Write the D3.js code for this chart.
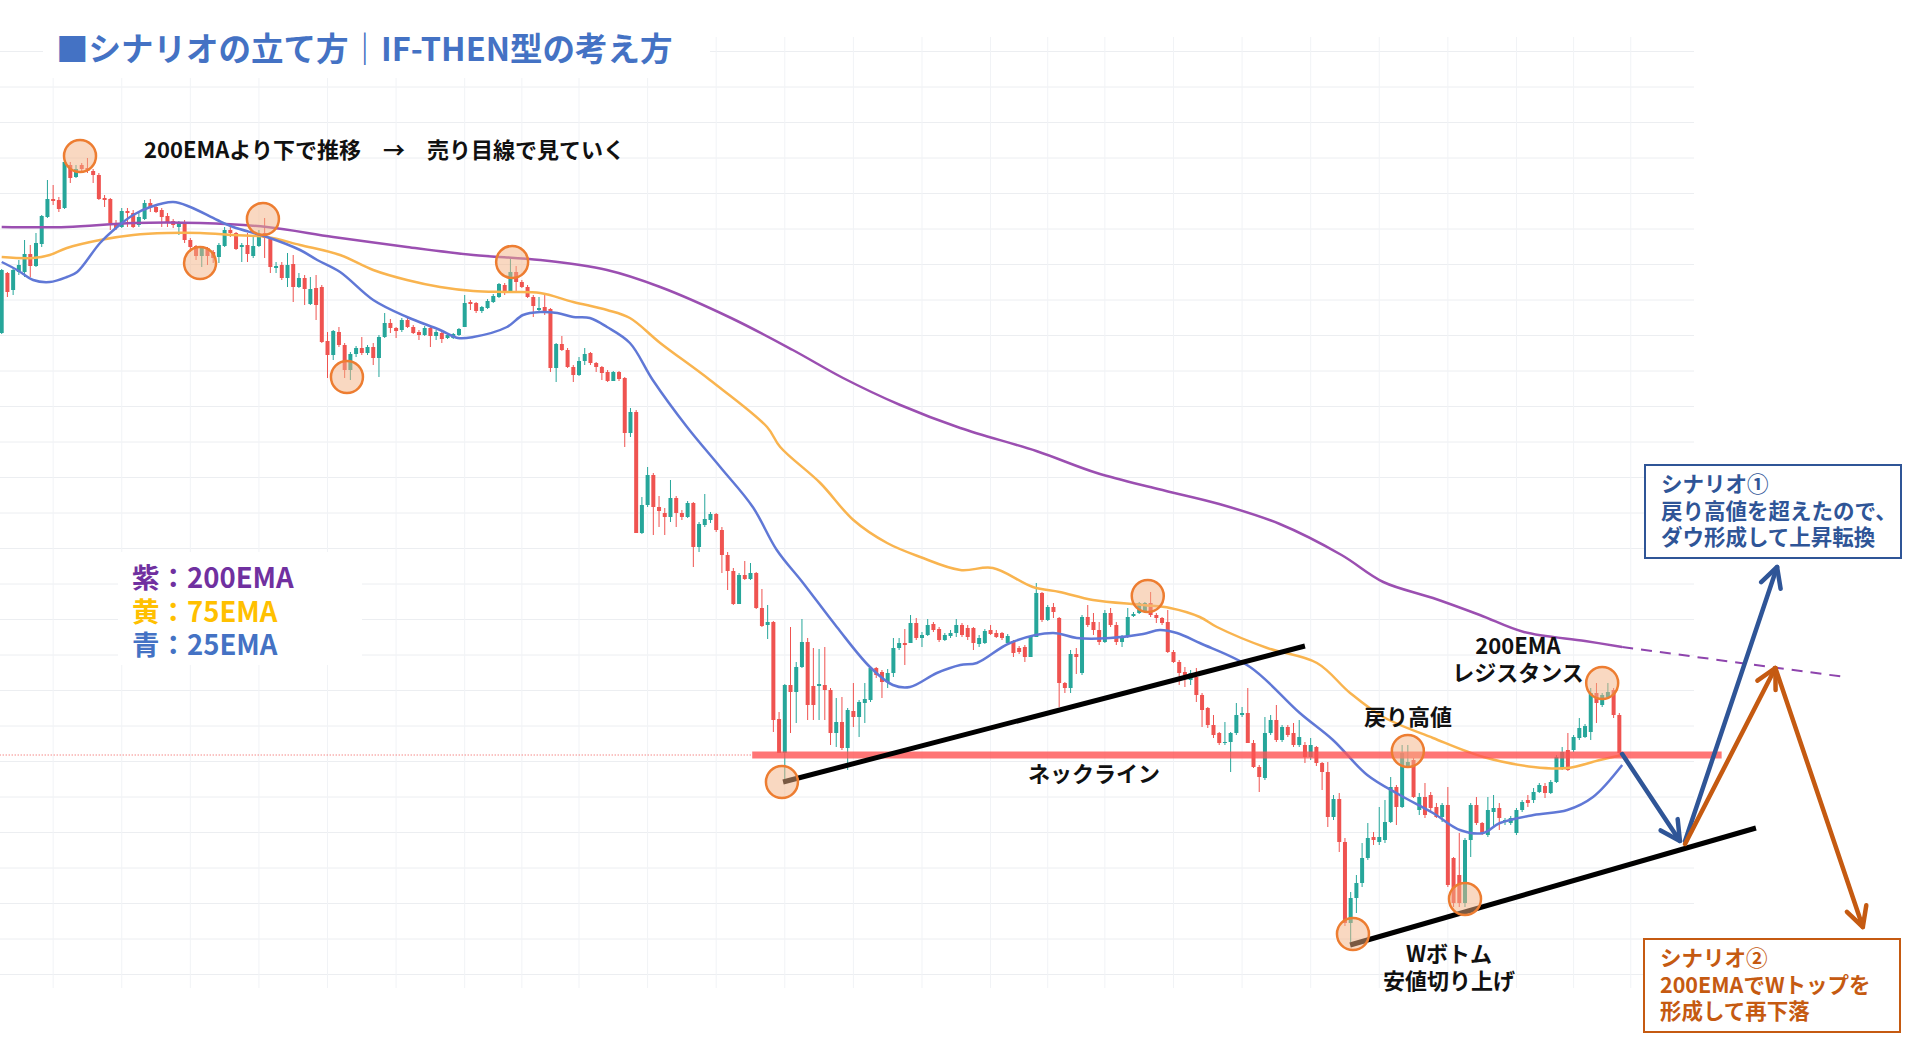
<!DOCTYPE html>
<html><head><meta charset="utf-8">
<script src="https://cdn.jsdelivr.net/npm/d3@7"></script>
<style>
html,body{margin:0;padding:0;background:#fff;}
svg{display:block;}
text{font-family:"Noto Sans CJK JP","Noto Sans",sans-serif;font-weight:700;}
</style>
</head><body>
<svg id="c" width="1912" height="1056"></svg>
<script>
// candle data: [open, high, low, close] (price units)
const ohlc = [
[667,731,666,730],[727,728,703,708],[710,732,705,730],[728,740,725,735],[728,760,723,746],
[746,755,723,734],[734,767,733,757],[756,785,753,784],[783,820,782,801],[801,815,795,799],
[800,803,788,791],[792,842,791,838],[835,838,817,822],[823,835,822,831],[835,837,827,831],
[832,842,827,829],[829,831,817,825],[825,827,800,801],[802,805,793,800],[801,802,770,777],
[777,780,770,772],[773,792,772,789],[789,792,773,787],[787,790,772,773],[775,788,773,783],
[781,800,780,797],[797,801,788,793],[793,794,787,788],[790,792,773,783],[784,787,773,777],
[779,781,772,775],[773,779,765,777],[778,780,757,760],[760,762,748,753],[754,755,740,744],
[744,753,733,752],[752,753,735,744],[748,750,737,742],[743,757,737,755],[754,773,753,770],
[770,775,763,767],[767,768,750,751],[753,757,738,755],[755,767,738,746],[744,763,742,754],
[754,770,753,765],[767,782,742,762],[762,763,727,733],[732,738,727,734],[735,738,720,722],
[722,747,713,735],[736,745,698,713],[713,727,712,722],[722,725,695,711],[696,723,695,711],
[712,725,680,695],[713,715,657,658],[659,668,622,645],[645,670,640,669],[668,673,653,655],
[655,657,622,630],[630,648,620,646],[646,654,643,652],[652,663,645,647],[647,655,645,653],
[653,657,635,642],[642,665,623,663],[663,687,662,677],[677,681,667,672],[672,673,662,669],
[670,682,668,680],[680,683,672,673],[673,675,666,667],[668,670,660,665],[665,674,664,672],
[672,673,653,664],[664,670,660,668],[667,670,657,661],[662,666,661,665],[662,667,661,666],
[665,672,664,671],[673,705,673,697],[698,700,690,696],[697,698,687,689],[689,694,687,693],
[692,701,691,699],[698,706,697,704],[703,717,702,716],[715,717,705,707],[708,741,707,728],
[728,734,707,718],[718,720,712,713],[713,715,702,703],[703,705,683,694],[690,703,687,692],
[693,707,685,689],[691,692,628,632],[632,657,618,656],[656,664,649,650],[650,652,632,633],
[633,635,618,625],[625,643,624,639],[639,652,635,646],[647,648,635,637],[637,638,628,633],
[633,634,620,627],[628,630,618,619],[619,629,619,628],[628,629,619,621],[622,623,553,567],
[567,592,563,588],[588,590,467,467],[467,503,466,495],[495,533,493,525],[525,527,465,493],
[493,504,473,489],[487,492,465,483],[483,520,478,502],[502,504,473,487],[487,490,480,483],
[483,499,482,497],[497,498,433,453],[453,478,448,476],[475,506,473,481],[480,488,477,486],
[486,487,468,470],[470,473,427,445],[445,448,410,429],[429,432,395,396],[396,427,396,425],
[425,439,420,421],[421,437,420,427],[427,428,391,392],[392,411,373,374],[375,395,361,378],
[378,379,268,280],[281,288,247,247],[247,316,218,315],[315,373,267,308],[308,338,277,333],
[333,381,332,358],[358,362,280,295],[314,352,280,295],[314,351,280,316],[315,353,280,310],
[310,312,255,267],[267,302,253,278],[278,303,250,252],[252,292,230,290],[289,317,273,283],
[283,300,263,298],[297,317,277,301],[300,333,298,332],[332,333,322,325],[328,330,302,318],
[318,331,312,327],[327,362,323,352],[352,362,350,357],[357,371,335,355],[357,385,357,377],
[377,382,360,362],[362,368,353,365],[365,381,364,375],[376,378,368,370],[371,373,358,360],
[360,367,359,365],[364,370,362,367],[367,381,363,375],[375,377,363,365],[372,375,360,363],
[372,373,350,357],[356,365,353,362],[357,371,356,369],[370,375,365,366],[367,370,362,363],
[367,368,360,362],[357,366,355,364],[359,360,343,347],[352,354,346,348],[353,355,338,343],
[343,365,343,363],[363,417,363,407],[407,408,378,380],[380,395,379,393],[393,397,382,388],
[382,383,293,317],[317,318,307,312],[312,350,307,346],[346,352,326,343],[327,385,325,383],
[383,395,373,375],[378,387,365,370],[370,378,355,358],[358,390,357,387],[387,392,373,375],
[375,378,355,358],[358,365,353,363],[363,392,362,383],[384,388,383,386],[387,398,386,397],
[388,398,387,397],[397,408,383,385],[385,387,377,382],[382,383,375,377],[378,390,347,348],
[348,350,337,338],[338,340,315,327],[328,333,313,325],[320,330,315,327],[323,332,298,305],
[305,307,273,290],[292,293,272,275],[275,285,262,265],[267,268,255,257],[257,278,255,258],
[258,268,228,267],[267,297,265,285],[285,293,283,287],[287,312,257,257],[257,260,232,233],
[233,235,208,223],[222,283,220,267],[267,285,265,280],[280,295,258,260],[260,275,258,273],
[273,275,263,265],[267,277,253,255],[255,280,253,263],[255,258,237,243],[243,262,240,255],
[253,254,234,237],[237,238,210,228],[228,238,173,183],[183,205,180,201],[201,207,148,158],
[158,162,74,77],[77,108,58,102],[102,125,87,117],[117,157,113,142],[142,177,140,162],
[163,168,155,160],[158,193,155,163],[160,200,157,178],[178,223,177,213],[213,215,175,193],
[193,255,192,247],[233,255,232,238],[240,242,202,203],[190,207,185,203],[203,217,182,185],
[205,208,188,192],[193,197,182,183],[183,197,178,195],[195,213,113,115],[142,143,93,97],
[125,167,93,97],[97,162,93,160],[160,197,143,195],[195,203,175,177],[177,178,165,167],
[165,203,163,190],[188,205,173,192],[192,197,170,182],[178,182,175,180],[177,184,175,182],
[167,192,165,190],[190,200,188,198],[200,205,193,197],[200,212,197,208],[208,217,207,215],
[214,217,202,207],[207,220,206,218],[218,245,217,243],[232,253,230,248],[250,267,229,230],
[250,265,248,263],[262,282,260,272],[263,276,262,274],[268,312,260,307],[307,317,277,297],
[295,307,293,305],[303,317,302,308],[310,312,282,285],[285,287,245,247]
];

// moving averages: [candle index, price]
const ema200 = [[0,773],[11.4,773],[23,777],[34.7,777],[46.4,773],[58,763],[70.9,753],[82.5,745],[94.2,740],[105.9,730],[115.2,713],[127.6,682],[138.4,650],[147.2,622],[157.2,595],[167.7,572],[181,549],[191.6,527],[202.3,511],[213,496],[223.6,476],[234.4,445],[241.7,418],[250.4,402],[258.6,385],[266.3,368],[277,359],[283.5,353]];
const ema75 = [[0,743],[5.5,742],[8.4,745],[11.4,752],[17.2,760],[23,765],[28.9,767],[34.7,767],[40.5,765],[46.4,763],[52.2,755],[59.2,745],[65,730],[70.9,720],[76.7,713],[82.5,709],[88.4,708],[94.2,707],[100,698],[105.9,690],[109.9,682],[115.2,657],[123.9,620],[133.9,573],[136.2,553],[143.2,517],[149,480],[154.9,457],[160.7,443],[167.7,430],[173.4,432],[180.4,413],[185.1,408],[190.9,400],[199.7,395],[204.4,392],[209.6,383],[212.6,373],[221.4,352],[230.1,337],[235.9,307],[241.7,283],[250.4,262],[259.2,243],[268,233],[273.9,232],[279.6,240],[283.5,245]];
const ema25 = [[0,738],[2.7,730],[5.5,720],[8.4,718],[11.4,723],[13.2,728],[17.2,757],[20.2,773],[23,785],[26,793],[30,798],[33,793],[37.7,780],[40.5,773],[46.4,763],[52.2,750],[55.2,740],[59.2,728],[65,700],[70.9,683],[76.7,670],[79.8,662],[82.5,663],[88.4,673],[91.2,685],[94.2,688],[97.2,687],[100,683],[102.9,682],[105.9,673],[109.9,657],[113.9,620],[119.9,573],[125.7,533],[131.4,493],[135.6,450],[140.2,417],[146.1,373],[151.9,333],[155.9,315],[158.9,313],[163.6,327],[167.7,335],[170.6,337],[176.4,357],[183.9,367],[188.1,362],[193.9,362],[199.7,366],[202.6,370],[205.6,367],[209.6,357],[218.4,333],[227.1,287],[232.9,260],[238.9,225],[244.6,205],[250.4,187],[255.1,170],[259.2,167],[262.1,177],[268,185],[273.9,190],[278.4,203],[283.5,235]];

// vertical grid (candle index) and horizontal grid (price)
const gridIdx = [9,21,33,45,57,69,81,91,101,113,125,137,149,161,173,183,193,205,217,229,241,253,265,275,285];
const gridPrices = d3.range(25.5, 950, 35.5);

// annotations in data coordinates
const necklinePrice = 245;
const necklineSpan = [131.3, 300.9];
const trend1 = [[136.7,218],[228,354]];
const trend2 = [[235.9,55],[306.9,172]];
const circles = [[13.7,844],[45.7,781],[34.7,737],[60.4,623],[89.3,738],[136.5,218],[200.5,404],[246,249],[236.4,66],[256,101],[280,317]];
const dashed200 = [[283.5,353],[322.5,323]];
const blueArrows = [[[283.5,246],[293.6,159]],[[294.5,159],[310.6,433]]];
const orangeArrows = [[[294.5,156],[310.3,332]],[[310.3,332],[325.6,73]]];

// texts
const legendLines = [['紫：200EMA','#7030a0'],['黄：75EMA','#ffc000'],['青：25EMA','#4472c4']];
const scenario1 = ['シナリオ①','戻り高値を超えたので、','ダウ形成して上昇転換'];
const scenario2 = ['シナリオ②','200EMAでWトップを','形成して再下落'];

const svg = d3.select('#c');
const x = d3.scaleLinear().domain([0,334]).range([1.7, 1.7+5.716*334]);
const y = d3.scaleLinear().domain([0,1000]).range([1000,0]);

// grid
const g = svg.append('g');
g.selectAll('line.h').data(gridPrices).join('line')
 .attr('x1',0).attr('x2',1694).attr('y1',d=>y(d)).attr('y2',d=>y(d))
 .attr('stroke','#eceef1').attr('stroke-width',1);
g.selectAll('line.v').data(gridIdx).join('line')
 .attr('x1',d=>x(d)).attr('x2',d=>x(d)).attr('y1',37).attr('y2',988)
 .attr('stroke','#f1f3f6').attr('stroke-width',1);

// white patches behind title and legend
svg.append('rect').attr('x',43).attr('y',20).attr('width',667).attr('height',58).attr('fill','#fff');
svg.append('rect').attr('x',118).attr('y',552).attr('width',244).attr('height',113).attr('fill','#fff');

// dotted price line
svg.append('line').attr('x1',x(0)-2).attr('x2',x(necklineSpan[0])).attr('y1',y(necklinePrice)).attr('y2',y(necklinePrice))
 .attr('stroke','#ef5350').attr('stroke-width',1).attr('stroke-dasharray','1,2');

// candles
const cg = svg.append('g');
const up='#26a69a', dn='#ef5350';
cg.selectAll('line').data(ohlc).join('line')
 .attr('x1',(d,i)=>x(i)).attr('x2',(d,i)=>x(i))
 .attr('y1',d=>y(d[1])).attr('y2',d=>y(d[2]))
 .attr('stroke',d=>d[3]>=d[0]?up:dn).attr('stroke-width',1);
cg.selectAll('rect').data(ohlc).join('rect')
 .attr('x',(d,i)=>x(i)-2).attr('width',4)
 .attr('y',d=>y(Math.max(d[0],d[3])))
 .attr('height',d=>Math.max(1,Math.abs(y(d[0])-y(d[3]))))
 .attr('fill',d=>d[3]>=d[0]?up:dn);

// EMA lines
const line = d3.line().x(d=>x(d[0])).y(d=>y(d[1])).curve(d3.curveCatmullRom.alpha(0.5));
[[ema200,'#9b4fb1'],[ema75,'#f9b44f'],[ema25,'#6078d6']].forEach(([data,col])=>{
  svg.append('path').attr('d',line(data)).attr('fill','none').attr('stroke',col).attr('stroke-width',2.5);
});
svg.append('path').attr('d',d3.line().x(d=>x(d[0])).y(d=>y(d[1]))(dashed200))
 .attr('fill','none').attr('stroke','#8e44ad').attr('stroke-width',2).attr('stroke-dasharray','11,8');

// neckline band
svg.append('line').attr('x1',x(necklineSpan[0])).attr('x2',x(necklineSpan[1]))
 .attr('y1',y(necklinePrice)).attr('y2',y(necklinePrice))
 .attr('stroke','#ff5252').attr('stroke-opacity',0.8).attr('stroke-width',7);

// trend lines
[trend1,trend2].forEach(t=>{
  svg.append('line').attr('x1',x(t[0][0])).attr('y1',y(t[0][1])).attr('x2',x(t[1][0])).attr('y2',y(t[1][1]))
   .attr('stroke','#000').attr('stroke-width',5);
});

// circles
svg.selectAll('circle.m').data(circles).join('circle')
 .attr('cx',d=>x(d[0])).attr('cy',d=>y(d[1])).attr('r',16)
 .attr('fill','#f4b183').attr('fill-opacity',0.5)
 .attr('stroke','#ed7d31').attr('stroke-width',2.5);

// arrows
function arrow(a,b,col){
  const x1=x(a[0]),y1=y(a[1]),x2=x(b[0]),y2=y(b[1]);
  svg.append('line').attr('x1',x1).attr('y1',y1).attr('x2',x2).attr('y2',y2)
   .attr('stroke',col).attr('stroke-width',4.5).attr('stroke-linecap','round');
  const ang=Math.atan2(y2-y1,x2-x1), L=22, sp=Math.PI/6.5;
  const p=[[x2-L*Math.cos(ang-sp),y2-L*Math.sin(ang-sp)],[x2,y2],[x2-L*Math.cos(ang+sp),y2-L*Math.sin(ang+sp)]];
  svg.append('path').attr('d',d3.line()(p)).attr('fill','none').attr('stroke',col)
   .attr('stroke-width',4.5).attr('stroke-linecap','round').attr('stroke-linejoin','round');
}
blueArrows.forEach(a=>arrow(a[0],a[1],'#2f5597'));
orangeArrows.forEach(a=>arrow(a[0],a[1],'#c55a11'));

// text helpers
function txt(s,xx,yy,size,col,anchor){
  return svg.append('text').attr('x',xx).attr('y',yy).attr('font-size',size).attr('fill',col)
   .attr('text-anchor',anchor||'start').text(s);
}
// multi-line block as one text element
function block(lines,xx,yy,size,lh,anchor,defCol){
  const t = svg.append('text').attr('x',xx).attr('y',yy).attr('font-size',size)
    .attr('text-anchor',anchor||'start').attr('fill',defCol||'#111');
  lines.forEach((l,k)=>{
    const s = Array.isArray(l)?l[0]:l;
    const ts = t.append('tspan').attr('x',xx).attr('dy',k===0?0:lh).text(s);
    if(Array.isArray(l)) ts.attr('fill',l[1]);
  });
  return t;
}

txt('■シナリオの立て方｜IF-THEN型の考え方',56,61,32.5,'#4472c4');
txt('200EMAより下で推移　→　売り目線で見ていく',144,158,22,'#111');
block(legendLines,132,588,27.5,33.5);
txt('ネックライン',1094,782,22,'#111','middle');
txt('戻り高値',1408,725,22,'#111','middle');
block(['200EMA','レジスタンス'],1518,654,22,27,'middle');
block(['Wボトム','安値切り上げ'],1449,962,22,27,'middle');

// scenario boxes
svg.append('rect').attr('x',1645).attr('y',465).attr('width',256).attr('height',93)
 .attr('fill','#fff').attr('stroke','#2f5597').attr('stroke-width',2);
block(scenario1,1661,492,21.5,26.5,'start','#2f5597');
svg.append('rect').attr('x',1644).attr('y',939).attr('width',256).attr('height',93)
 .attr('fill','#fff').attr('stroke','#c55a11').attr('stroke-width',2);
block(scenario2,1660,966,21.5,26.5,'start','#c55a11');
</script>
</body></html>
